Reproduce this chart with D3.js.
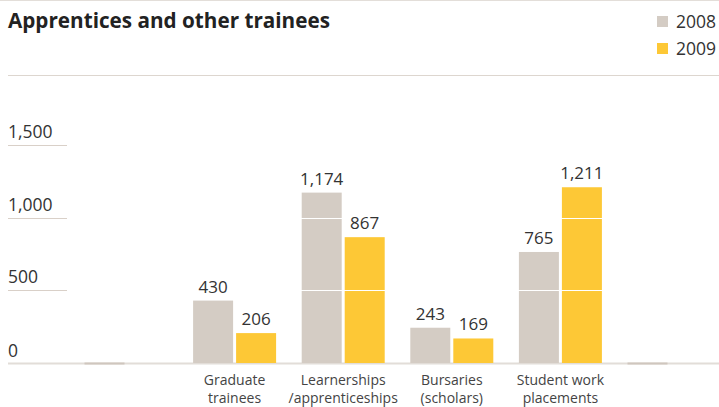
<!DOCTYPE html>
<html><head><meta charset="utf-8">
<script src="https://cdn.jsdelivr.net/npm/d3@7"></script>
<style>
html,body{margin:0;padding:0;background:#fff;}
svg{display:block;font-family:"Open Sans","Noto Sans",sans-serif;}
</style></head>
<body><svg id="c" width="719" height="407"></svg>
<script>
const title = "Apprentices and other trainees";
const categories = ["", "Graduate\ntrainees", "Learnerships\n/apprenticeships", "Bursaries\n(scholars)", "Student work\nplacements", ""];
const seriesNames = ["2008", "2009"];
const values2008 = [0, 430, 1174, 243, 765, 0];
const values2009 = [null, 206, 867, 169, 1211, null];
const yTicks = [0, 500, 1000, 1500];
const colors = ["#d4ccc4", "#fdc836"];

const svg = d3.select("#c");
const x = d3.scaleBand().domain(d3.range(categories.length)).range([71.7, 723.3]).padding(0);
const xs = d3.scaleBand().domain(seriesNames).range([-41.5, 41.5]).paddingInner(3/43);
const y = d3.scaleLinear().domain([0, 1500]).range([363, 145.3]);
const fmt = d3.format(",");

// top rules
svg.append("line").attr("x1",0).attr("x2",719).attr("y1",0.5).attr("y2",0.5).attr("stroke","#e3ded9");
svg.append("line").attr("x1",8).attr("x2",719).attr("y1",75.5).attr("y2",75.5).attr("stroke","#ddd6cf");

svg.append("text").attr("x",8).attr("y",28).attr("font-size",20.7).attr("font-weight",700)
  .attr("fill","#222").text(title);

// legend
const lg = svg.append("g");
seriesNames.forEach((s,i)=>{
  lg.append("rect").attr("x",657).attr("y",16+i*27).attr("width",11).attr("height",11).attr("fill",colors[i]);
  lg.append("text").attr("x",676).attr("y",28+i*27).attr("font-size",17.5).attr("fill","#333").text(s);
});

// y gridlines (short) and labels
const yg = svg.append("g");
yTicks.forEach(t=>{
  if (t>0) yg.append("line").attr("x1",8).attr("x2",67).attr("y1",Math.round(y(t))+0.5).attr("y2",Math.round(y(t))+0.5).attr("stroke","#d9d0c8");
  yg.append("text").attr("x",8).attr("y",y(t)-(t===0?6:7)).attr("font-size",17.5).attr("fill","#333").text(fmt(t));
});

// baseline
svg.append("line").attr("x1",8).attr("x2",719).attr("y1",363.5).attr("y2",363.5).attr("stroke","#e2ddd8").attr("stroke-width",2);

// bars
const series = [values2008, values2009];
const labels = [];
series.forEach((vals,si)=>{
  const g = svg.append("g");
  vals.forEach((v,ci)=>{
    if (v===null) return;
    const bx = x(ci) + x.bandwidth()/2 + xs(seriesNames[si]);
    if (v===0) {
      g.append("line").attr("x1",bx).attr("x2",bx+xs.bandwidth()).attr("y1",363.5).attr("y2",363.5).attr("stroke","#cfc6be").attr("stroke-width",2);
      return;
    }
    g.append("rect").attr("x",bx).attr("y",y(v)).attr("width",xs.bandwidth()).attr("height",y(0)-y(v)).attr("fill",colors[si]);
    labels.push({x: bx+xs.bandwidth()/2, y: y(v)-8, t: fmt(v)});
  });
});

// white gridlines over bars
yTicks.filter(t=>t>0).forEach(t=>{
  svg.append("line").attr("x1",80).attr("x2",719).attr("y1",Math.round(y(t))+0.5).attr("y2",Math.round(y(t))+0.5).attr("stroke","#fff");
});

// value labels
labels.forEach(l=>{
  svg.append("text").attr("x",l.x).attr("y",l.y).attr("text-anchor","middle")
    .attr("font-size",17).attr("fill","#333").text(l.t);
});

// category labels
categories.forEach((c,ci)=>{
  if (!c) return;
  const t = svg.append("text").attr("text-anchor","middle").attr("font-size",14).attr("fill","#444");
  c.split("\n").forEach((ln,li)=>{
    t.append("tspan").attr("x",x(ci)+x.bandwidth()/2).attr("y",385+li*18).text(ln);
  });
});
</script></body></html>
